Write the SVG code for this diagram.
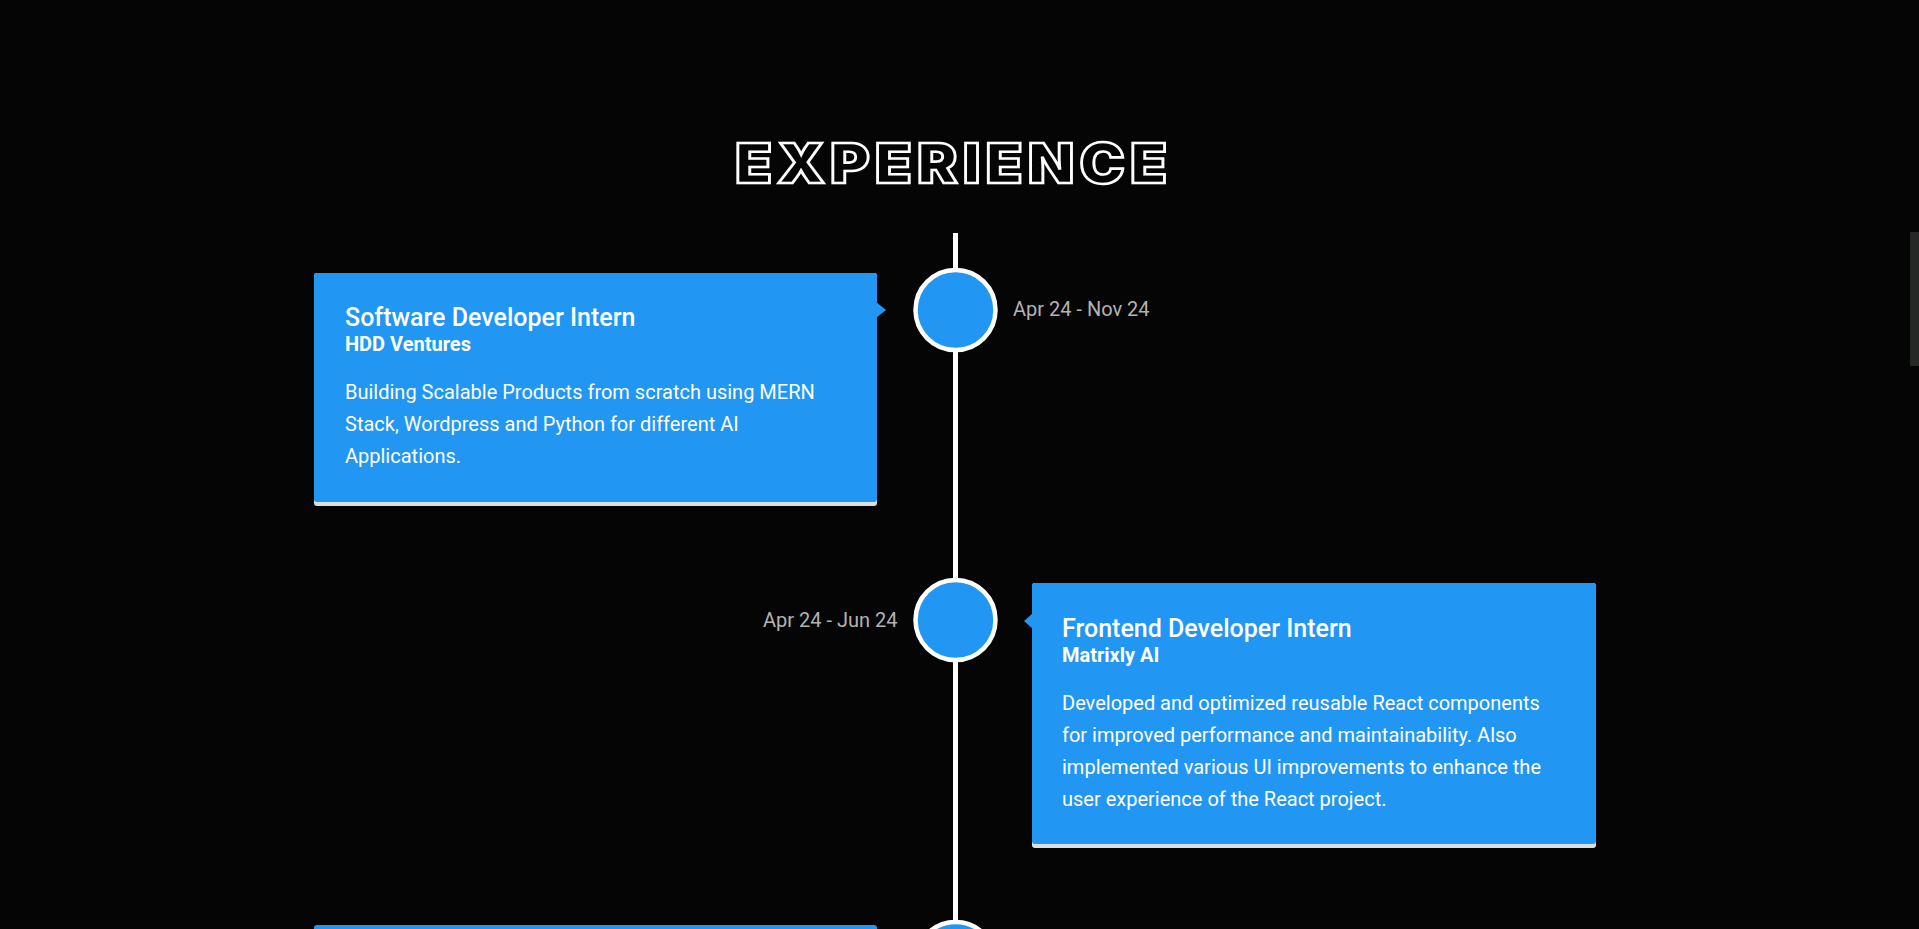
<svg xmlns="http://www.w3.org/2000/svg" width="1919" height="929" viewBox="0 0 1919 929">
<style>
.title{font-family:Inter,"Open Sans","Liberation Sans",sans-serif;font-weight:900;font-size:55px;fill:#050505;stroke:#ffffff;stroke-width:2.6px}
.card{fill:#2196f3}
.cardb{fill:#dedede}
.h{font-family:Roboto,"Liberation Sans",sans-serif;font-weight:500;font-size:25px;fill:#ffffff}
.s{font-family:Roboto,"Liberation Sans",sans-serif;font-weight:700;font-size:20px;fill:#ffffff}
.d{font-family:Roboto,"Liberation Sans",sans-serif;font-weight:400;font-size:20px;fill:#ffffff}
.date{font-family:Roboto,"Liberation Sans",sans-serif;font-weight:400;font-size:20px;fill:#b3b3b3}
.dot{fill:#2196f3;stroke:#ffffff;stroke-width:4.5px}
</style>
<rect x="0" y="0" width="1919" height="929" fill="#050505"/>
<rect x="1910" y="232" width="9" height="134" fill="#262826"/>
<text class="title" transform="translate(735,183) scale(1.1,1)" x="0" y="0" textLength="392.7" lengthAdjust="spacing">EXPERIENCE</text>
<g id="connectors">
<line x1="955.5" y1="233" x2="955.5" y2="929" stroke="#ffffff" stroke-width="5"/>
</g>
<g id="dot1"><circle class="dot" cx="955.5" cy="310" r="40"/></g>
<g id="dot2"><circle class="dot" cx="955.5" cy="620" r="40"/></g>
<g id="dot3"><circle class="dot" cx="955.5" cy="962" r="40"/></g>
<g id="card1">
<rect class="cardb" x="314" y="273" width="563" height="233" rx="3"/>
<rect class="card" x="314" y="273" width="563" height="229" rx="3"/>
<polygon class="card" points="876,302 886,310 876,318"/>
<text class="h" x="345" y="326">Software Developer Intern</text>
<text class="s" x="345" y="351">HDD Ventures</text>
<text class="d" x="345" y="399">Building Scalable Products from scratch using MERN</text>
<text class="d" x="345" y="431">Stack, Wordpress and Python for different AI</text>
<text class="d" x="345" y="463">Applications.</text>
</g>
<g id="date1"><text class="date" x="1013" y="316">Apr 24 - Nov 24</text></g>
<g id="card2">
<rect class="cardb" x="1032" y="583" width="564" height="265" rx="3"/>
<rect class="card" x="1032" y="583" width="564" height="261" rx="3"/>
<polygon class="card" points="1033,613 1024,621 1033,629"/>
<text class="h" x="1062" y="637">Frontend Developer Intern</text>
<text class="s" x="1062" y="662">Matrixly AI</text>
<text class="d" x="1062" y="710">Developed and optimized reusable React components</text>
<text class="d" x="1062" y="742">for improved performance and maintainability. Also</text>
<text class="d" x="1062" y="774">implemented various UI improvements to enhance the</text>
<text class="d" x="1062" y="806">user experience of the React project.</text>
</g>
<g id="date2"><text class="date" x="897.5" y="627" text-anchor="end">Apr 24 - Jun 24</text></g>
<g id="card3">
<rect class="card" x="314" y="925" width="563" height="20" rx="3"/>
</g>
</svg>
